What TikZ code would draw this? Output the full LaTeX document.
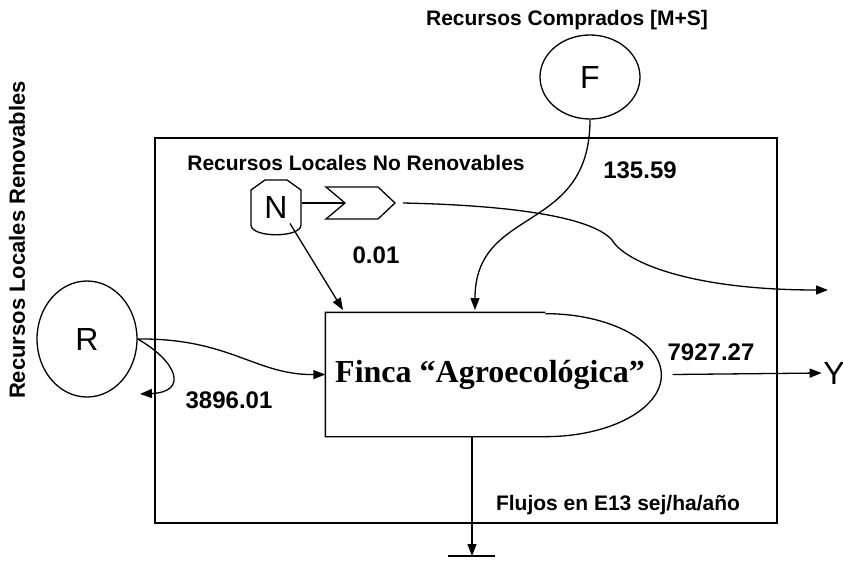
\documentclass[tikz,border=0pt]{standalone}
\usepackage{fontspec}
\setmainfont{Liberation Sans}
\newfontfamily\timesfont{Liberation Serif}
\usetikzlibrary{arrows.meta,shapes.geometric}
\tikzset{
  flow/.style={-{Triangle[length=12pt,width=9pt]}},
  lbl/.style={font=\fontsize{21}{25}\selectfont\bfseries},
  num/.style={font=\fontsize{24}{28}\selectfont\bfseries},
  letter/.style={font=\fontsize{32}{36}\selectfont},
  src/.style={draw,ellipse,inner sep=0pt,letter}
}
\begin{document}
\begin{tikzpicture}[x=1pt,y=-1pt,line width=1.3pt]
  \useasboundingbox (0,0) rectangle (843,565);
  \draw (155,138) rectangle (777,523);
  \node[src,minimum width=100pt,minimum height=116pt] (R) at (87,339) {R};
  \node[src,minimum width=100pt,minimum height=84pt]  (F) at (590,77) {F};
  \node[lbl]          (titleF) at (567,20)  {Recursos Comprados [M+S]};
  \node[lbl,font=\fontsize{22}{26}\selectfont\bfseries,rotate=90] (titleR) at (17,240) {Recursos Locales Renovables};
  \node[lbl]          (titleN) at (356,163) {Recursos Locales No Renovables};
  \node[lbl]          (units)  at (618,505) {Flujos en E13 sej/ha/año};
  \draw (251,190) -- (265,180) -- (287,180) -- (301,190) -- (301,225)
        .. controls (301,238) and (251,238) .. (251,225) -- cycle;
  \node[letter,minimum width=50pt,minimum height=55pt,inner sep=0pt] (N) at (276,207.5) {N};
  \draw (326,187) -- (378,187) -- (395,203) -- (378,219) -- (326,219) -- (345,203) -- cycle;
  \coordinate (notch) at (345,203);
  \coordinate (out)   at (403,203);
  \coordinate (exit)  at (828,290);
  \node[minimum width=336pt,minimum height=123pt,inner sep=0pt] (Finca) at (494,374.5) {};
  \draw ([xshift=220pt]Finca.north west) -- (Finca.north west) -- (Finca.south west)
        -- ([xshift=220pt]Finca.south west) arc[start angle=90,end angle=-90,x radius=116,y radius=61.5];
  \node[font=\fontsize{32}{36}\selectfont\timesfont\bfseries] (name) at (490,375) {Finca “Agroecológica”};
  \node[letter,inner sep=1pt] (Y) at (834,373) {Y};
  \coordinate (Rback)  at (140,394);
  \coordinate (topN)   at (343,310);
  \coordinate (topF)   at (475,310);
  \coordinate (ground) at (472,556);
  \draw[flow] (R.east) .. controls (230,338) and (255,375) .. (Finca.west);
  \draw[flow] (R.east) .. controls (178,362) and (188,392) .. (Rback);
  \draw (N.east |- notch) -- (notch);
  \draw[flow] ([shift={(14,16)}]N.center) -- (topN);
  \draw[flow] (F.south) .. controls (590,235) and (475,205) .. (topF);
  \draw[flow] (out) .. controls (500,205) and (590,215) .. (612,240)
              .. controls (625,262) and (690,290) .. (exit);
  \draw[flow] ([xshift=10pt]Finca.east) -- (Y.west);
  \draw[flow] ([xshift=-22pt]Finca.south) -- (ground);
  \draw ([xshift=-24pt]ground) -- ([xshift=23pt]ground);
  \begin{scope}[every node/.style={num}]
     \node (vF) at (640,170) {135.59};
     \node (vN) at (376,255) {0.01};
     \node (vR) at (229,400) {3896.01};
     \node (vY) at (711,352) {7927.27};
  \end{scope}
\end{tikzpicture}
\end{document}
